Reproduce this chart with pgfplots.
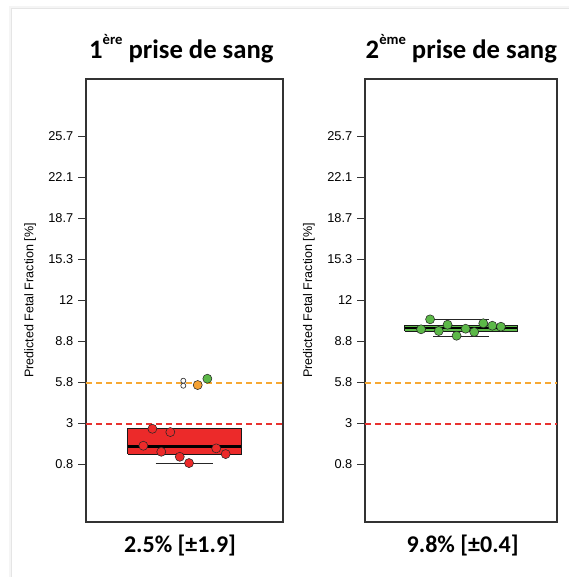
\documentclass[border=0pt]{standalone}
\usepackage{pgfplots}
\pgfplotsset{compat=1.18}
\usepackage{fontspec}
\setmainfont{Liberation Sans}
\newfontfamily\titlefont{Carlito}
\newcommand{\tl}[1]{{\fontsize{9.6}{11}\selectfont #1}}
\definecolor{boxred}{RGB}{236,42,42}
\definecolor{ptgreen}{RGB}{92,184,72}
\definecolor{ptorange}{RGB}{244,161,51}
\definecolor{lnorange}{RGB}{247,168,51}
\definecolor{lnred}{RGB}{232,50,48}
\pgfplotsset{
  panel/.style={
    scale only axis, height=332.25pt,
    xmin=0, xmax=1, ymin=-1.4, ymax=9.4,
    xtick=\empty, ytick={0,1,2,3,4,5,6,7,8},
    yticklabels={\tl{0.8},\tl{3},\tl{5.8},\tl{8.8},\tl{12},\tl{15.3},\tl{18.7},\tl{22.1},\tl{25.7}},
    tick align=outside, ytick pos=left, major tick length=6pt,
    axis line style={black!80, line width=0.9pt},
    every tick/.style={black!80, line width=0.8pt},
    /pgf/number format/assume math mode=true,
    ylabel={Predicted Fetal Fraction [\%]},
    clip=false,
  },
  ylab/.style={every axis y label/.style={at={(axis description cs:#1,0.5)}, rotate=90, anchor=center, font=\fontsize{9.4}{11}\selectfont}},
  pt/.style={only marks, mark=*, mark size=3.4pt, mark options={draw=black!85, line width=0.4pt, fill=#1}},
  opn/.style={only marks, mark=*, mark size=1.9pt, mark options={draw=black!80, line width=0.5pt, fill=white}},
  refl/.style={#1, solid, dash pattern=on 4.5pt off 3pt, line width=1.5pt},
}
\newcommand{\supx}[1]{\raisebox{0.55em}{\fontsize{11}{12}\selectfont #1}}
\begin{document}
\begin{tikzpicture}
\path[use as bounding box] (0,0) rectangle (426.75pt,432.75pt);
\draw[gray!8, line width=2pt] (7.5pt,0) -- (7.5pt,427.5pt) -- (426.75pt,427.5pt);
\draw[gray!20, line width=0.6pt] (8.25pt,0) -- (8.25pt,426.75pt) -- (426.75pt,426.75pt);

% Left panel
\begin{axis}[panel, ylab=-0.284, width=147.75pt, at={(64.5pt,41.25pt)}, anchor=south west]
\addplot[refl=lnorange] coordinates {(0,2) (0.5,2) (1,2)};
\addplot[refl=lnred] coordinates {(0,1) (0.5,1) (1,1)};
\addplot[fill=boxred, draw=black!90, line width=0.7pt] coordinates {(0.212,0.256) (0.788,0.256) (0.788,0.873) (0.212,0.873) (0.212,0.256)};
\addplot[black, line width=2.2pt] coordinates {(0.212,0.444) (0.788,0.444)};
\addplot[black!85, line width=0.7pt] coordinates {(0.354,0.037) (0.643,0.037)};
\addplot[pt=boxred] coordinates {(0.337,0.873) (0.428,0.793) (0.291,0.459) (0.382,0.312) (0.476,0.190) (0.523,0.037) (0.661,0.395) (0.709,0.256)};
\addplot[opn] coordinates {(0.494,2.044) (0.494,1.922)};
\addplot[pt=ptorange] coordinates {(0.567,1.939)};
\addplot[pt=ptgreen] coordinates {(0.616,2.093)};
\end{axis}

% Right panel
\begin{axis}[panel, ylab=-0.292, width=144pt, at={(273.75pt,41.25pt)}, anchor=south west]
\addplot[refl=lnorange] coordinates {(0,2) (0.5,2) (1,2)};
\addplot[refl=lnred] coordinates {(0,1) (0.5,1) (1,1)};
\addplot[black!85, line width=0.7pt] coordinates {(0.356,3.541) (0.646,3.541)};
\addplot[black!85, line width=0.7pt] coordinates {(0.356,3.134) (0.646,3.134)};
\addplot[fill=ptgreen, draw=black!90, line width=0.7pt] coordinates {(0.208,3.249) (0.792,3.249) (0.792,3.402) (0.208,3.402) (0.208,3.249)};
\addplot[black, line width=2.2pt] coordinates {(0.208,3.329) (0.792,3.329)};
\addplot[pt=ptgreen] coordinates {(0.292,3.298) (0.339,3.541) (0.384,3.256) (0.430,3.410) (0.477,3.141) (0.524,3.312) (0.569,3.232) (0.616,3.444) (0.663,3.385) (0.708,3.361)};
\end{axis}

% Titles
\node[anchor=base, font=\titlefont\bfseries\fontsize{20}{24}\selectfont] at (136pt,388.5pt) {1\supx{ère} prise de sang};
\node[anchor=base, font=\titlefont\bfseries\fontsize{20}{24}\selectfont] at (346pt,388.5pt) {2\supx{ème} prise de sang};
% Bottom labels
\node[anchor=base, font=\titlefont\bfseries\fontsize{18}{22}\selectfont] at (135pt,18pt) {2.5\% [±1.9]};
\node[anchor=base, font=\titlefont\bfseries\fontsize{18}{22}\selectfont] at (347pt,18pt) {9.8\% [±0.4]};
\end{tikzpicture}
\end{document}
